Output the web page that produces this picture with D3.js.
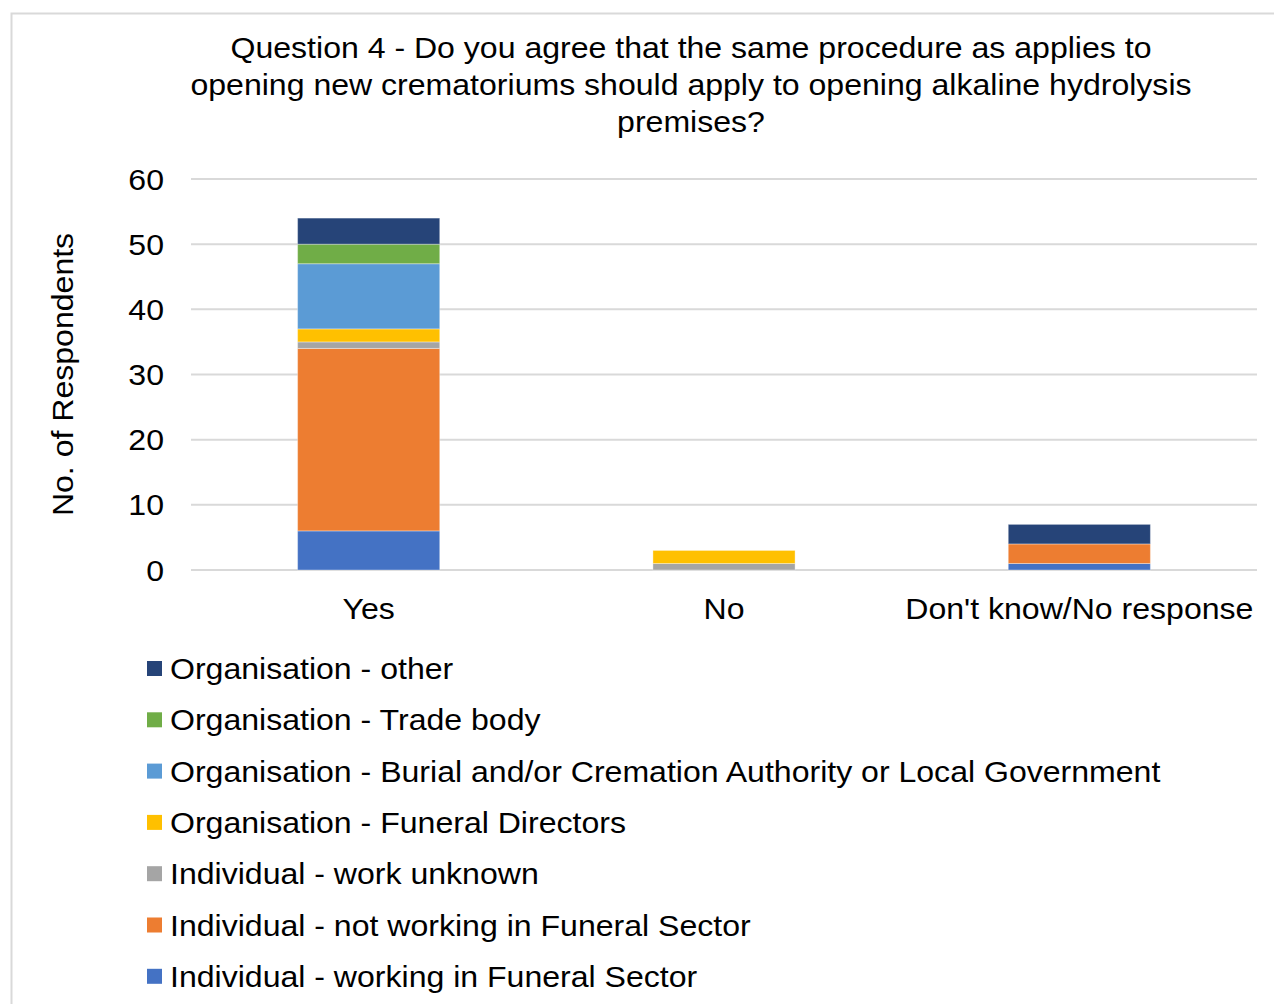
<!DOCTYPE html>
<html>
<head>
<meta charset="utf-8">
<script src="https://cdn.jsdelivr.net/npm/d3@7"></script>
<style>
  html, body { margin: 0; padding: 0; background: #fff; }
  svg { display: block; font-family: Arial, "Liberation Sans", sans-serif; }
</style>
</head>
<body>
<svg id="chart" width="1274" height="1004"></svg>
<script>
// Response categories (x axis)
const categories = ["Yes", "No", "Don't know/No response"];

// Respondent groups, bottom of stack first
const seriesNames = [
  "Individual - working in Funeral Sector",
  "Individual - not working in Funeral Sector",
  "Individual - work unknown",
  "Organisation - Funeral Directors",
  "Organisation - Burial and/or Cremation Authority or Local Government",
  "Organisation - Trade body",
  "Organisation - other"
];

// Counts per group, in category order
const indWorking    = [6, 0, 1];
const indNotWorking = [28, 0, 3];
const indUnknown    = [1, 1, 0];
const orgFuneral    = [2, 2, 0];
const orgAuthority  = [10, 0, 0];
const orgTrade      = [3, 0, 0];
const orgOther      = [4, 0, 3];

const seriesValues = [indWorking, indNotWorking, indUnknown, orgFuneral, orgAuthority, orgTrade, orgOther];
const seriesColors = ["#4472C4", "#ED7D31", "#A5A5A5", "#FFC000", "#5B9BD5", "#70AD47", "#264478"];

const yTicks = [0, 10, 20, 30, 40, 50, 60];

const titleLines = [
  "Question 4 - Do you agree that the same procedure as applies to",
  "opening new crematoriums should apply to opening alkaline hydrolysis",
  "premises?"
];

const FONT = 29;
const STRETCH = 1.105;   // text is set slightly wide

// widen a text/tspan selection horizontally, keeping its anchor
function widen(sel) {
  sel.each(function () {
    const len = this.getComputedTextLength();
    if (len > 0) {
      d3.select(this)
        .attr("textLength", len * STRETCH)
        .attr("lengthAdjust", "spacingAndGlyphs");
    }
  });
}

const svg = d3.select("#chart");

// outer chart border
svg.append("rect")
  .attr("x", 11.5).attr("y", 13.5)
  .attr("width", 1280).attr("height", 1010)
  .attr("fill", "none").attr("stroke", "#D9D9D9").attr("stroke-width", 2);

const plot = { left: 191, right: 1257, top: 179, bottom: 570 };

const x = d3.scaleBand().domain(categories)
  .range([plot.left, plot.right]).paddingInner(0.6).paddingOuter(0.3);
const y = d3.scaleLinear().domain([0, 60]).range([plot.bottom, plot.top]);

// gridlines
svg.append("g").selectAll("line").data(yTicks).join("line")
  .attr("x1", plot.left).attr("x2", plot.right)
  .attr("y1", d => y(d)).attr("y2", d => y(d))
  .attr("stroke", "#D9D9D9").attr("stroke-width", 2);

// y axis tick labels
const yAxis = d3.axisLeft(y).tickValues(yTicks).tickSize(0).tickPadding(0);
const gy = svg.append("g").attr("transform", `translate(${plot.left - 27},0)`).call(yAxis);
gy.select(".domain").remove();
gy.selectAll("text")
  .attr("font-size", FONT).attr("fill", "#000")
  .attr("font-family", "Arial, 'Liberation Sans', sans-serif")
  .attr("dy", "0.35em")
  .call(widen);

// stacked bars
const rows = categories.map((c, i) => {
  const r = { category: c };
  seriesNames.forEach((s, j) => { r[s] = seriesValues[j][i]; });
  return r;
});
const stacked = d3.stack().keys(seriesNames)(rows);

svg.append("g").selectAll("g").data(stacked).join("g")
  .attr("fill", (d, i) => seriesColors[i])
  .selectAll("rect").data(d => d.filter(p => p[1] > p[0])).join("rect")
  .attr("x", d => x(d.data.category))
  .attr("width", x.bandwidth())
  .attr("y", d => y(d[1]))
  .attr("height", d => y(d[0]) - y(d[1]))
  .attr("stroke", "rgba(255,255,255,0.35)").attr("stroke-width", 1);

// x axis labels
const xAxis = d3.axisBottom(x).tickSize(0).tickPadding(0);
const gx = svg.append("g").attr("transform", `translate(0,${plot.bottom + 49})`).call(xAxis);
gx.select(".domain").remove();
gx.selectAll("text")
  .attr("font-size", FONT).attr("fill", "#000")
  .attr("font-family", "Arial, 'Liberation Sans', sans-serif")
  .attr("dy", 0)
  .call(widen);

// title
svg.append("text")
  .attr("text-anchor", "middle").attr("font-size", FONT).attr("fill", "#000")
  .selectAll("tspan").data(titleLines).join("tspan")
  .attr("x", 691).attr("y", (d, i) => 58 + i * 37)
  .text(d => d)
  .call(widen);

// y axis title
svg.append("text")
  .attr("transform", `translate(73,${(plot.top + plot.bottom) / 2}) rotate(-90)`)
  .attr("text-anchor", "middle").attr("font-size", FONT).attr("fill", "#000")
  .text("No. of Respondents")
  .call(widen);

// legend, top entry is the top of the stack
const legendOrder = d3.range(seriesNames.length).reverse();
const legend = svg.append("g").selectAll("g").data(legendOrder).join("g")
  .attr("transform", (d, i) => `translate(147,${669 + i * 51.3})`);
legend.append("rect")
  .attr("x", 0).attr("y", -8).attr("width", 15).attr("height", 15)
  .attr("fill", d => seriesColors[d]);
legend.append("text")
  .attr("x", 23).attr("y", 10).attr("font-size", FONT).attr("fill", "#000")
  .text(d => seriesNames[d])
  .call(widen);
</script>
</body>
</html>
